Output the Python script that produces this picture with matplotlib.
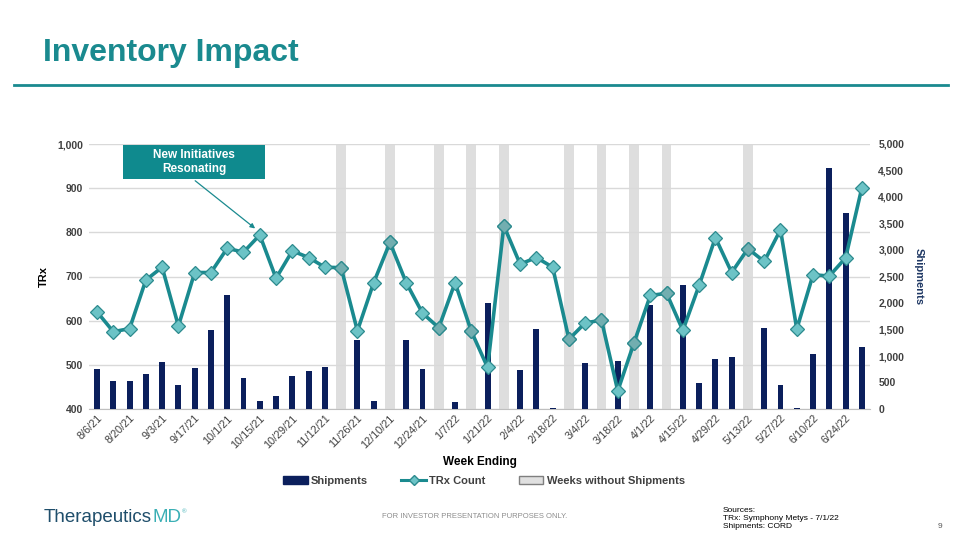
import matplotlib
matplotlib.use("Agg")
import matplotlib.pyplot as plt
from matplotlib.lines import Line2D
from matplotlib.patches import Patch
import numpy as np

plt.rcParams['font.family'] = ['Liberation Sans', 'DejaVu Sans']

# ---- data ----
week_labels = ["8/6/21", "8/20/21", "9/3/21", "9/17/21", "10/1/21", "10/15/21",
               "10/29/21", "11/12/21", "11/26/21", "12/10/21", "12/24/21", "1/7/22",
               "1/21/22", "2/4/22", "2/18/22", "3/4/22", "3/18/22", "4/1/22",
               "4/15/22", "4/29/22", "5/13/22", "5/27/22", "6/10/22", "6/24/22"]
trx = [620, 575, 582, 692, 721, 588, 709, 709, 764, 755, 794, 696,
       758, 743, 721, 720, 577, 686, 777, 686, 617, 584, 686, 576,
       494, 815, 728, 743, 721, 558, 595, 601, 441, 550, 657, 662,
       578, 680, 788, 709, 763, 734, 806, 581, 704, 701, 742, 901]
shipments = [746, 521, 521, 652, 878, 452, 772, 1493, 2146, 583, 157, 238,
             627, 715, 790, 0, 1305, 144, 0, 1305, 759, 0, 125, 0,
             1995, 0, 740, 1506, 20, 0, 872, 0, 897, 0, 1964, 0,
             2334, 489, 947, 979, 0, 1524, 452, 15, 1029, 4542, 3701, 1173]
no_ship_weeks = [15, 18, 21, 23, 25, 29, 31, 33, 35, 40]

TEAL = "#1A8A8F"
NAVY = "#0B1F5C"
MARK_FACE = "#6CC3C6"
MARK_FACE_DARK = "#72AEB0"
MARK_EDGE = "#2C8A8E"

fig = plt.figure(figsize=(9.6, 5.4), dpi=100)

# title and rule
fig.text(43/960, 1-53/540, "Inventory Impact", fontsize=23, fontweight='bold',
         color=TEAL, ha='left', va='center')
fig.add_artist(Line2D([14/960, 948/960], [1-85/540, 1-85/540], color=TEAL, lw=2))

x = np.arange(len(trx))
ax = fig.add_axes([88.9/960, 1-409/540, (870-88.9)/960, (409-144)/540])
ax2 = ax.twinx()

# left axis: TRx
ax.set_xlim(-0.5, len(trx)-0.5)
ax.set_ylim(400, 1000)
ax.set_yticks(np.arange(400, 1001, 100))
ax.set_yticklabels([f"{v:,}" for v in range(400, 1001, 100)])
ax.grid(axis='y', color='#D9D9D9', lw=1)
ax.set_axisbelow(True)
for s in ['top', 'right', 'left']:
    ax.spines[s].set_visible(False)
ax.spines['bottom'].set_color('#BFBFBF')
ax.tick_params(axis='y', length=0, labelsize=7.5, labelcolor='#404040', pad=4)
for t in ax.get_yticklabels():
    t.set_fontweight('bold')
ax.set_xticks(x[::2])
ax.set_xticklabels(week_labels, rotation=45, ha='right', rotation_mode='anchor',
                   fontsize=7.8, color='#404040')
ax.tick_params(axis='x', length=0, pad=3)
ax.set_ylabel("TRx", fontsize=8, fontweight='bold', color='black', labelpad=6)
ax.set_xlabel("Week Ending", fontsize=8.5, fontweight='bold', color='black', labelpad=4)

# gray bands for weeks without shipments
for w in no_ship_weeks:
    ax.axvspan(w - 0.3, w + 0.3, color='#DEDEDE', lw=0, zorder=0.5)

# right axis: shipments bars
ax2.set_ylim(0, 5000)
ax2.set_yticks(np.arange(0, 5001, 500))
ax2.set_yticklabels([f"{v:,}" for v in range(0, 5001, 500)])
ax2.bar(x, shipments, width=0.36, color=NAVY, zorder=2)
for s in ['top', 'right', 'left', 'bottom']:
    ax2.spines[s].set_visible(False)
ax2.tick_params(axis='y', length=0, labelsize=7.5, labelcolor='#404040', pad=6)
for t in ax2.get_yticklabels():
    t.set_fontweight('bold')
ax2.set_ylabel("Shipments", fontsize=8, fontweight='bold', color='#1F3864',
               rotation=270, labelpad=14)

# TRx line (mapped onto the secondary scale so it sits above bars)
trx_scaled = [(v - 400) / 600 * 5000 for v in trx]
ax2.plot(x, trx_scaled, color=TEAL, lw=2.6, marker='D', markersize=7,
         markerfacecolor=MARK_FACE, markeredgecolor=MARK_EDGE, markeredgewidth=0.9,
         zorder=3)
ax2.plot([x[w] for w in no_ship_weeks], [trx_scaled[w] for w in no_ship_weeks],
         ls='none', marker='D', markersize=7, markerfacecolor=MARK_FACE_DARK,
         markeredgecolor=MARK_EDGE, markeredgewidth=0.9, zorder=3.5)

# annotation
ax2.annotate("", xy=(10 - 0.15, trx_scaled[10] + 90), xycoords='data',
             xytext=(193/960, 1-179/540), textcoords='figure fraction',
             arrowprops=dict(arrowstyle='-|>', color=TEAL, lw=0.9, mutation_scale=7),
             zorder=6)
fig.add_artist(matplotlib.patches.Rectangle((123/960, 1-179/540), 142/960, 34/540,
               transform=fig.transFigure, facecolor='#0F8A8E', edgecolor='none',
               zorder=5))
fig.text(194/960, 1-162/540, "New Initiatives\nResonating", fontsize=8.5,
         fontweight='bold', color='white', ha='center', va='center', linespacing=1.3,
         zorder=7)

# legend
handles = [Patch(facecolor=NAVY, edgecolor=NAVY),
           Line2D([0], [0], color=TEAL, lw=2.2, marker='D', markersize=5,
                  markerfacecolor=MARK_FACE, markeredgecolor=MARK_EDGE),
           Patch(facecolor='#E0E0E0', edgecolor='#7F7F7F')]
fig.legend(handles, ["Shipments", "TRx Count", "Weeks without Shipments"],
           loc='center', bbox_to_anchor=(484/960, 1-481/540), ncol=3, frameon=False,
           handlelength=2.2, columnspacing=3.0, handletextpad=0.3,
           labelcolor='#404040', prop={'weight': 'bold', 'size': 8})

# footer logo
r = fig.canvas.get_renderer()
t1 = fig.text(44/960, 1-518/540, "Therapeutics", fontsize=13.5, color='#1F4E6B',
              ha='left', va='center')
bb = t1.get_window_extent(renderer=r)
t2 = fig.text(bb.x1/960 + 0.5/960, 1-518/540, "MD", fontsize=13.5, color='#3AAFB5',
              ha='left', va='center')
bb2 = t2.get_window_extent(renderer=r)
fig.text(bb2.x1/960 + 0.5/960, 1-512/540, "®", fontsize=4.5, color='#3AAFB5',
         ha='left', va='center')
fig.text(475/960, 1-516/540, "FOR INVESTOR PRESENTATION PURPOSES ONLY.", fontsize=5.5,
         color='#8C8C8C', ha='center', va='center')
fig.text(723/960, 1-519/540, "Sources:\nTRx: Symphony Metys - 7/1/22\nShipments: CORD",
         fontsize=6, color='black', ha='left', va='center', linespacing=1.2)
fig.text(940/960, 1-527/540, "9", fontsize=6, color='#595959', ha='center', va='center')

fig.savefig("out.png", dpi=100)
